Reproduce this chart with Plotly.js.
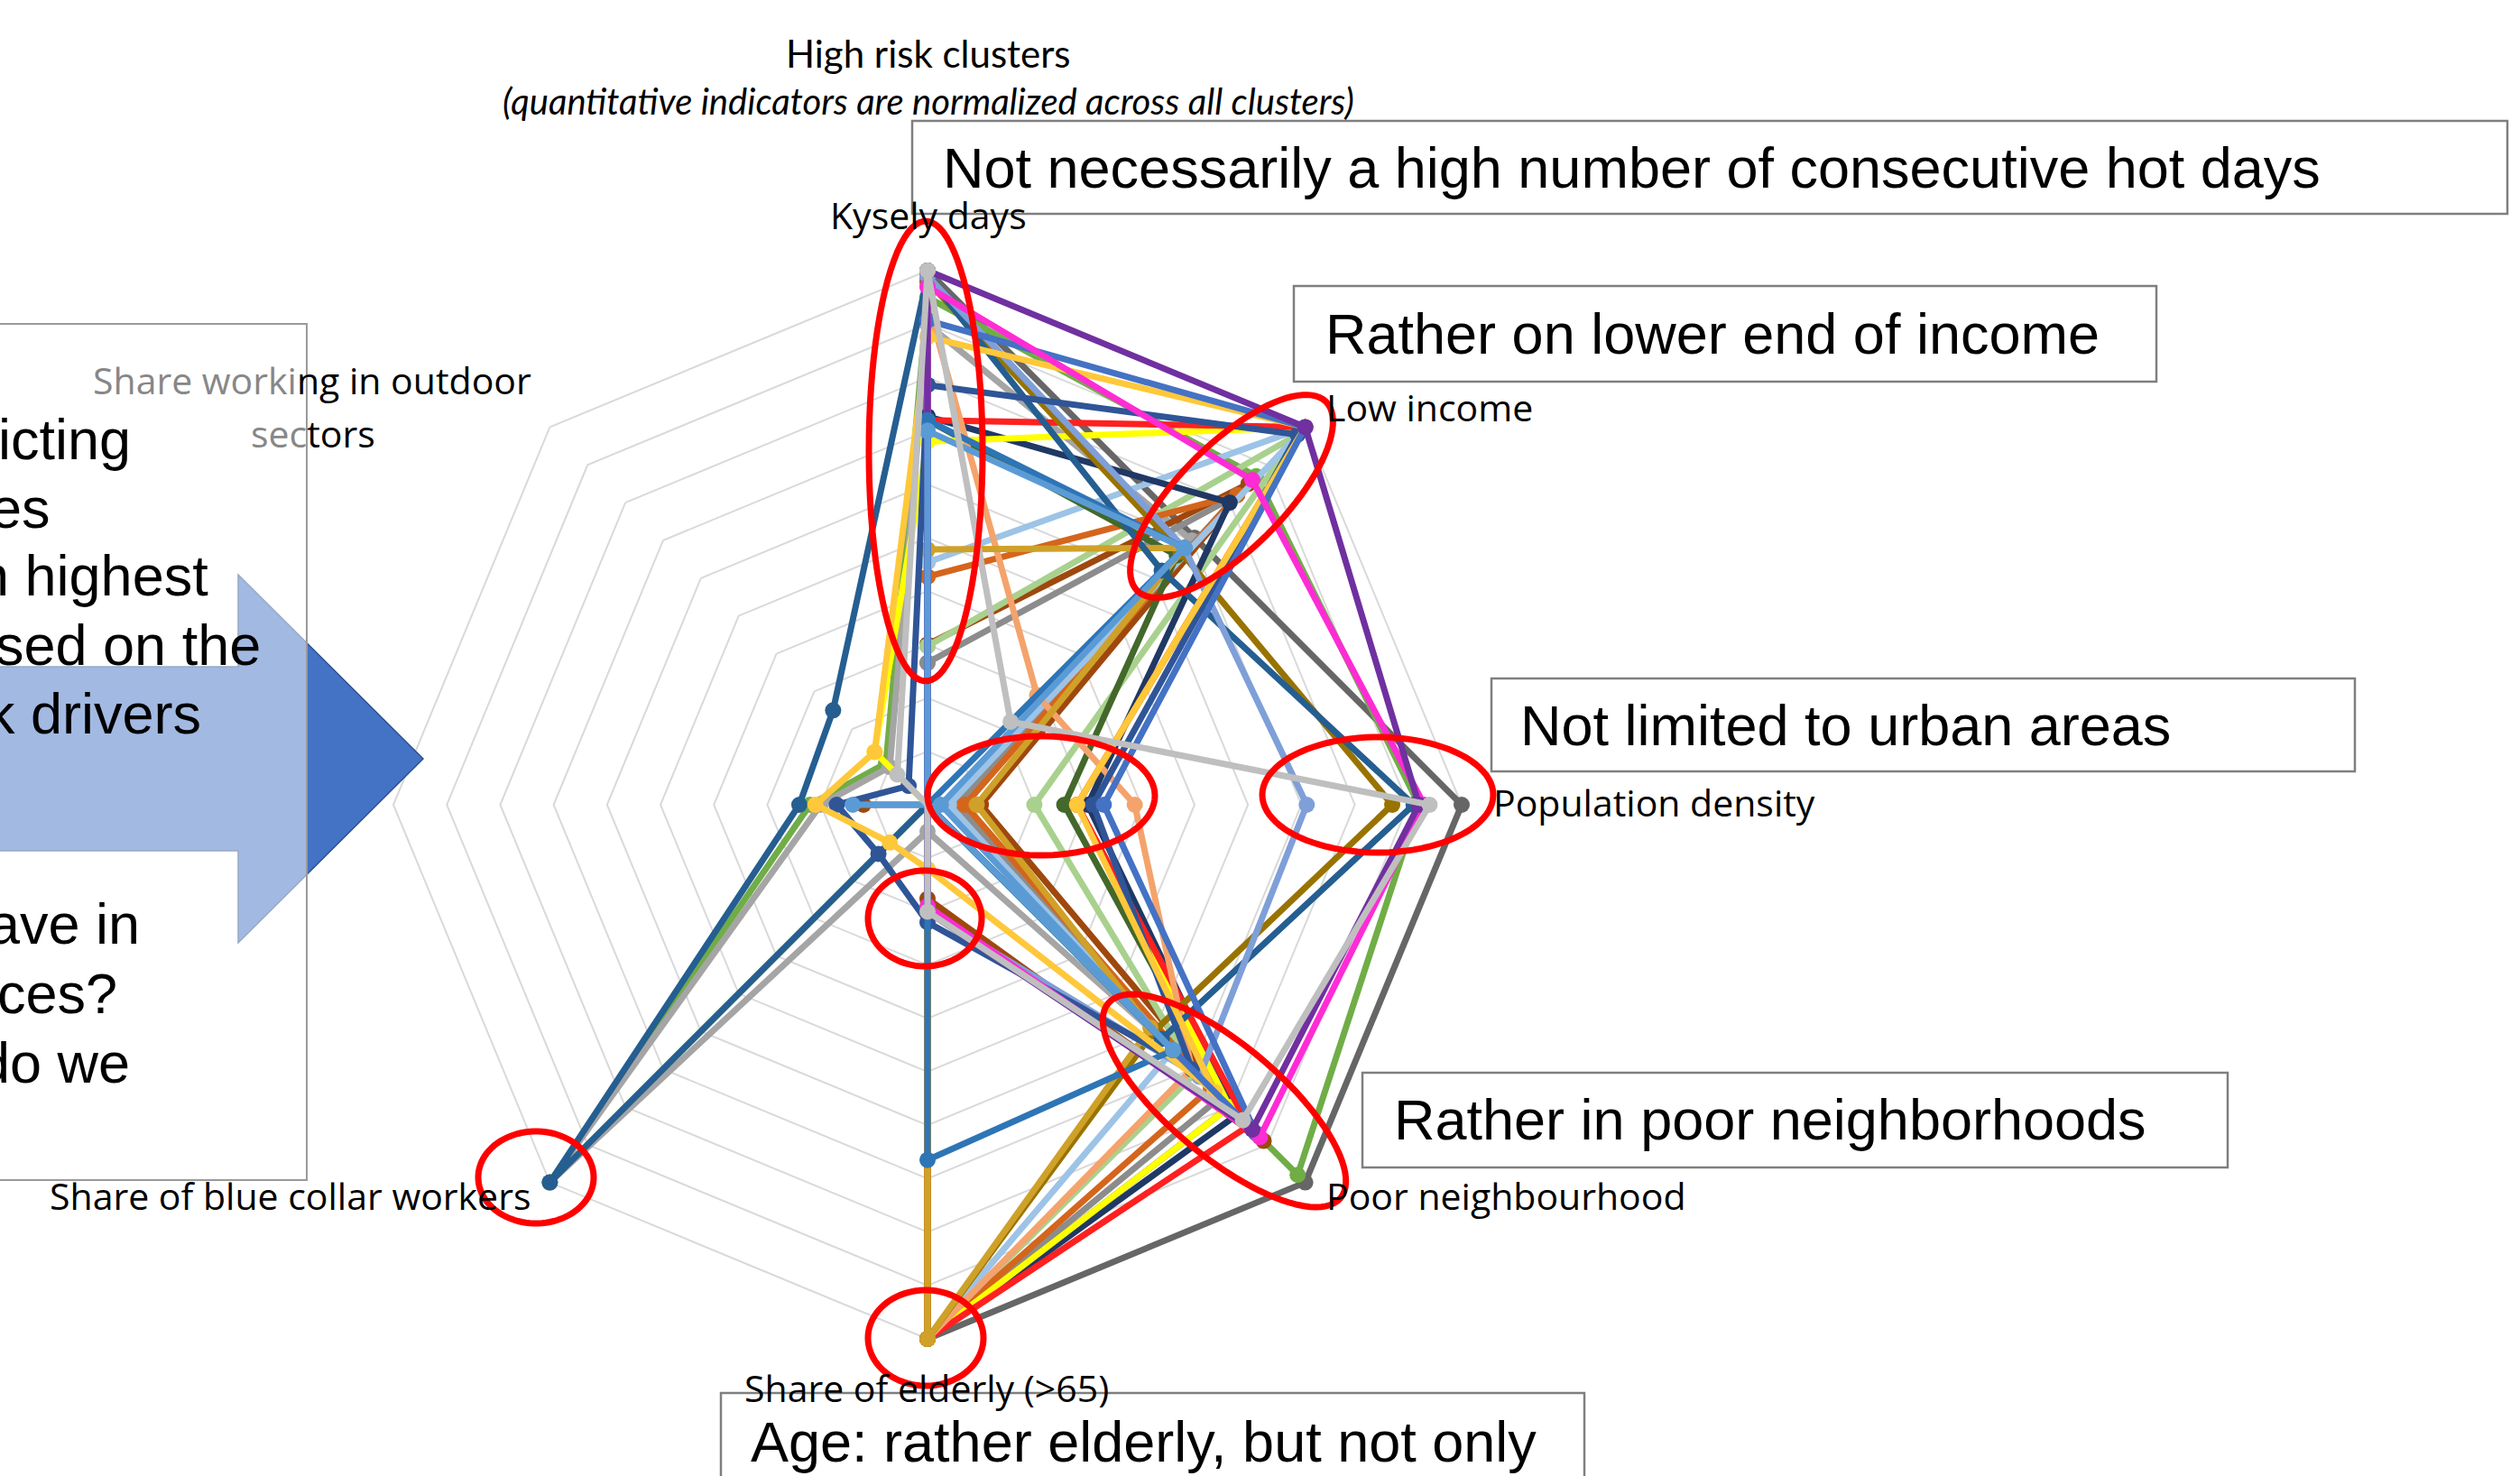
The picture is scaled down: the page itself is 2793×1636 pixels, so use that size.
<!DOCTYPE html>
<html>
<head>
<meta charset="utf-8">
<script src="https://cdn.plot.ly/plotly-3.0.1.min.js"></script>
<style>html,body{margin:0;padding:0;background:#fff;}#chart{width:2793px;height:1636px;}</style>
</head>
<body>
<div id="chart"></div>
<script>
// ---------- DATA ----------
const categories = ["Kysely days", "Low income", "Population density", "Poor neighbourhood",
  "Share of elderly (>65)", "Share of blue collar workers", "Hidden indicator", "Share working in outdoor sectors"];
const ringValues = [0.1, 0.2, 0.3, 0.4, 0.5, 0.6, 0.7, 0.8, 0.9, 1.0];

// values per cluster, in category order (normalized 0..1)
const clusterGray2      = [0.90, 0.70, 0.056, 0.62, 0.05, 1.00, 0.20, 0.10];
const clusterBrown      = [0.30, 0.85, 0.10, 0.89, 0.176, 0.00, 0.12, 0.00];
const clusterGray       = [0.266, 0.82, 0.056, 0.775, 1.00, 0.00, 0.00, 0.00];
const clusterLightGreen = [0.297, 0.98, 0.20, 0.71, 1.00, 0.00, 0.00, 0.00];
const clusterDarkOrange = [0.427, 0.82, 0.07, 0.75, 1.00, 0.00, 0.00, 0.00];
const clusterPaleBlue   = [0.454, 1.00, 0.04, 0.65, 1.00, 0.00, 0.00, 0.00];
const clusterGold       = [0.478, 0.68, 0.092, 0.59, 1.00, 0.00, 0.00, 0.00];
const clusterDarkGreen  = [0.72, 0.66, 0.256, 0.80, 1.00, 0.00, 0.00, 0.00];
const clusterNavy       = [0.727, 0.80, 0.30, 0.82, 1.00, 0.00, 0.00, 0.00];
const clusterYellow     = [0.68, 1.00, 0.28, 0.80, 1.00, 0.00, 0.00, 0.14];
const clusterRed        = [0.72, 1.00, 0.28, 0.85, 1.00, 0.00, 0.00, 0.00];
const clusterLightOrange= [0.94, 0.29, 0.388, 0.70, 1.00, 0.00, 0.00, 0.00];
const clusterDarkGold   = [0.98, 0.67, 0.87, 0.60, 1.00, 0.00, 0.00, 0.00];
const clusterTeal       = [0.99, 0.62, 0.91, 0.62, 0.00, 1.00, 0.24, 0.25];
const clusterPeriwinkle = [0.99, 0.68, 0.71, 0.72, 0.20, 0.00, 0.00, 0.00];
const clusterDarkBlue   = [0.786, 0.98, 0.31, 0.70, 0.22, 0.13, 0.17, 0.05];
const clusterAmber      = [0.876, 1.00, 0.28, 0.76, 0.12, 0.10, 0.21, 0.14];
const clusterBlue       = [0.907, 1.00, 0.33, 0.87, 0.00, 0.00, 0.00, 0.00];
const clusterGreen      = [0.95, 0.87, 0.92, 0.98, 0.00, 1.00, 0.22, 0.11];
const clusterMagenta    = [0.97, 0.86, 0.93, 0.88, 0.19, 0.00, 0.00, 0.00];
const clusterPurple     = [1.00, 1.00, 0.92, 0.86, 0.20, 0.00, 0.00, 0.00];
const clusterDarkGray   = [1.00, 0.707, 1.00, 1.00, 1.00, 0.00, 0.00, 0.00];
const clusterMidBlue    = [0.72, 0.68, 0.00, 0.65, 0.665, 0.00, 0.00, 0.00];
const clusterLightBlue  = [0.70, 0.68, 0.025, 0.65, 0.00, 0.00, 0.14, 0.00];
const clusterLightGray  = [1.00, 0.22, 0.94, 0.835, 0.20, 0.00, 0.00, 0.08];

const titleText = "High risk clusters";
const subtitleText = "(quantitative indicators are normalized across all clusters)";
const callouts = ["Not necessarily a high number of consecutive hot days", "Rather on lower end of income",
  "Not limited to urban areas", "Rather in poor neighborhoods", "Age: rather elderly, but not only"];
const sideTextLines = ["icting", "es", "n highest", "sed on the", "k drivers", "ave in", "ces?", "do we"];

// ---------- STYLE ----------
const seriesList = [
  [clusterDarkGray, "#666666"], [clusterGreen, "#70AD47"],
  [clusterGray2, "#A5A5A5"], [clusterBrown, "#9E480E"], [clusterGray, "#8C8C8C"],
  [clusterLightGreen, "#A9D18E"], [clusterDarkOrange, "#D5651C"], [clusterPaleBlue, "#9DC3E6"],
  [clusterDarkGreen, "#43682B"], [clusterNavy, "#203864"],
  [clusterYellow, "#FFFF00"], [clusterRed, "#FF2020"], [clusterLightOrange, "#F4A36C"],
  [clusterDarkGold, "#997300"], [clusterGold, "#CFA128"], [clusterTeal, "#255E91"], [clusterPeriwinkle, "#7F9FD8"],
  [clusterDarkBlue, "#2F5597"], [clusterAmber, "#FFC83A"], [clusterBlue, "#4472C4"],
  [clusterMagenta, "#FF2CD5"], [clusterPurple, "#7030A0"],
  [clusterMidBlue, "#2E75B6"], [clusterLightBlue, "#5B9BD5"],
  [clusterLightGray, "#BFBFBF"]
];

const W = 2793, H = 1636;
const px = x => x / W, py = y => 1 - y / H;
const CX = 1028, CY = 892, R = 592;   // pixel radius of value 1.0
const RMAX = 1.05;                    // headroom so lines on the outer ring are not clipped
const RD = R * RMAX;

const traces = seriesList.map(([vals, col], i) => ({
  type: "scatterpolar",
  r: vals.concat([vals[0]]),
  theta: categories.concat([categories[0]]),
  mode: "lines+markers",
  line: { color: col, width: 7 },
  marker: { color: col, size: 18, line: { width: 0 } },
  cliponaxis: false,
  hoverinfo: "skip",
  showlegend: false
}));

function ell(cx, cy, a, b, deg) {
  const t = deg * Math.PI / 180; let d = "";
  for (let i = 0; i <= 90; i++) {
    const u = i / 90 * 2 * Math.PI;
    const x = cx + a * Math.cos(u) * Math.cos(t) - b * Math.sin(u) * Math.sin(t);
    const y = cy + a * Math.cos(u) * Math.sin(t) + b * Math.sin(u) * Math.cos(t);
    d += (i ? "L" : "M") + px(x).toFixed(5) + "," + py(y).toFixed(5);
  }
  return d + "Z";
}
function poly(pts) {
  return pts.map((p, i) => (i ? "L" : "M") + px(p[0]).toFixed(5) + "," + py(p[1]).toFixed(5)).join("") + "Z";
}
function rect(x0, y0, x1, y1, line, fill) {
  return { type: "rect", xref: "paper", yref: "paper", x0: px(x0), x1: px(x1), y0: py(y1), y1: py(y0),
    line: line, fillcolor: fill || "rgba(0,0,0,0)", layer: "above" };
}
const redLine = { color: "#FF0000", width: 7 };
const ellipses = [
  [1026, 500, 63, 255, 0], [1365, 550, 148, 58, -45], [1154, 882, 126, 66, 0], [1527, 881, 128, 64, 0],
  [1025, 1018, 63, 53, 0], [1357, 1220, 168, 62, 40], [594, 1305, 64, 51, 0], [1026, 1483, 64, 53, 0]
];

const shapes = [];
ellipses.forEach(e => shapes.push({ type: "path", xref: "paper", yref: "paper", path: ell(...e), line: redLine, fillcolor: "rgba(0,0,0,0)", layer: "above" }));
// block arrow
shapes.push({ type: "path", xref: "paper", yref: "paper", layer: "above",
  path: poly([[-10, 739], [264, 739], [264, 637], [469, 841], [264, 1045], [264, 943], [-10, 943]]),
  fillcolor: "#4472C4", line: { color: "#2F528F", width: 1.5 } });
// semi-transparent side text box
shapes.push(rect(-20, 359, 340, 1308, { color: "#9A9A9A", width: 2 }, "rgba(255,255,255,0.5)"));
// callout boxes
const boxLine = { color: "#7F7F7F", width: 2.5 };
const calloutBoxes = [[1011, 134, 2779, 237], [1434, 317, 2390, 423], [1653, 752, 2610, 855], [1510, 1189, 2469, 1294], [799, 1544, 1756, 1652]];
calloutBoxes.forEach(b => shapes.push(rect(b[0], b[1], b[2], b[3], boxLine)));

const annotations = [];
function ann(text, x, y, xanchor, font) {
  annotations.push({ xref: "paper", yref: "paper", x: px(x), y: py(y), xanchor: xanchor, yanchor: "middle",
    text: text, showarrow: false, font: font, align: xanchor === "right" ? "right" : (xanchor === "left" ? "left" : "center") });
}
const labFont = { family: "Open Sans, Noto Sans, sans-serif", size: 41, color: "#000" };
ann(categories[0], 1029, 238, "center", labFont);
ann(categories[1], 1468, 451, "left", labFont);
ann(categories[2], 1653, 889, "left", labFont);
ann(categories[3], 1468, 1325, "left", labFont);
ann(categories[4], 1027, 1538, "center", labFont);
ann(categories[5], 590, 1325, "right", labFont);
ann('<span style="color:#878787">Share worki</span>ng in outdoor', 101, 421, "left", labFont);
ann('<span style="color:#878787">sec</span>tors', 276, 480, "left", labFont);

ann(titleText, 1029, 59, "center", { family: "Lato, sans-serif", size: 42, color: "#000" });
ann("<i>" + subtitleText + "</i>", 1029, 112, "center", { family: "Lato, sans-serif", size: 40, color: "#000" });

const bigFont = { family: "Liberation Sans, Arial, sans-serif", size: 63, color: "#000" };
const calloutPos = [[1043, 186], [1467, 370], [1683, 804], [1543, 1241], [830, 1598]];
callouts.forEach((t, i) => ann(t, calloutPos[i][0], calloutPos[i][1], "left", bigFont));

const sidePos = [[-4, 487], [-13, 563], [-27, 638], [-7, 715], [-17, 791], [-15, 1024], [-5, 1101], [-26, 1178]];
sideTextLines.forEach((t, i) => ann(t, sidePos[i][0], sidePos[i][1], "left", bigFont));

const layout = {
  width: W, height: H,
  margin: { l: 0, r: 0, t: 0, b: 0 },
  paper_bgcolor: "#ffffff",
  showlegend: false,
  polar: {
    domain: { x: [px(CX - RD), px(CX + RD)], y: [py(CY + RD), py(CY - RD)] },
    gridshape: "linear",
    bgcolor: "rgba(0,0,0,0)",
    radialaxis: { range: [0, RMAX], tickmode: "array", tickvals: ringValues, showticklabels: false, ticks: "",
      showline: false, gridcolor: "#D9D9D9", gridwidth: 2 },
    angularaxis: { type: "category", categoryarray: categories, direction: "clockwise", rotation: 90,
      showticklabels: false, ticks: "", showgrid: false, showline: false }
  },
  shapes: shapes,
  annotations: annotations
};

Plotly.newPlot("chart", traces, layout, { staticPlot: true, displayModeBar: false });
</script>
</body>
</html>
